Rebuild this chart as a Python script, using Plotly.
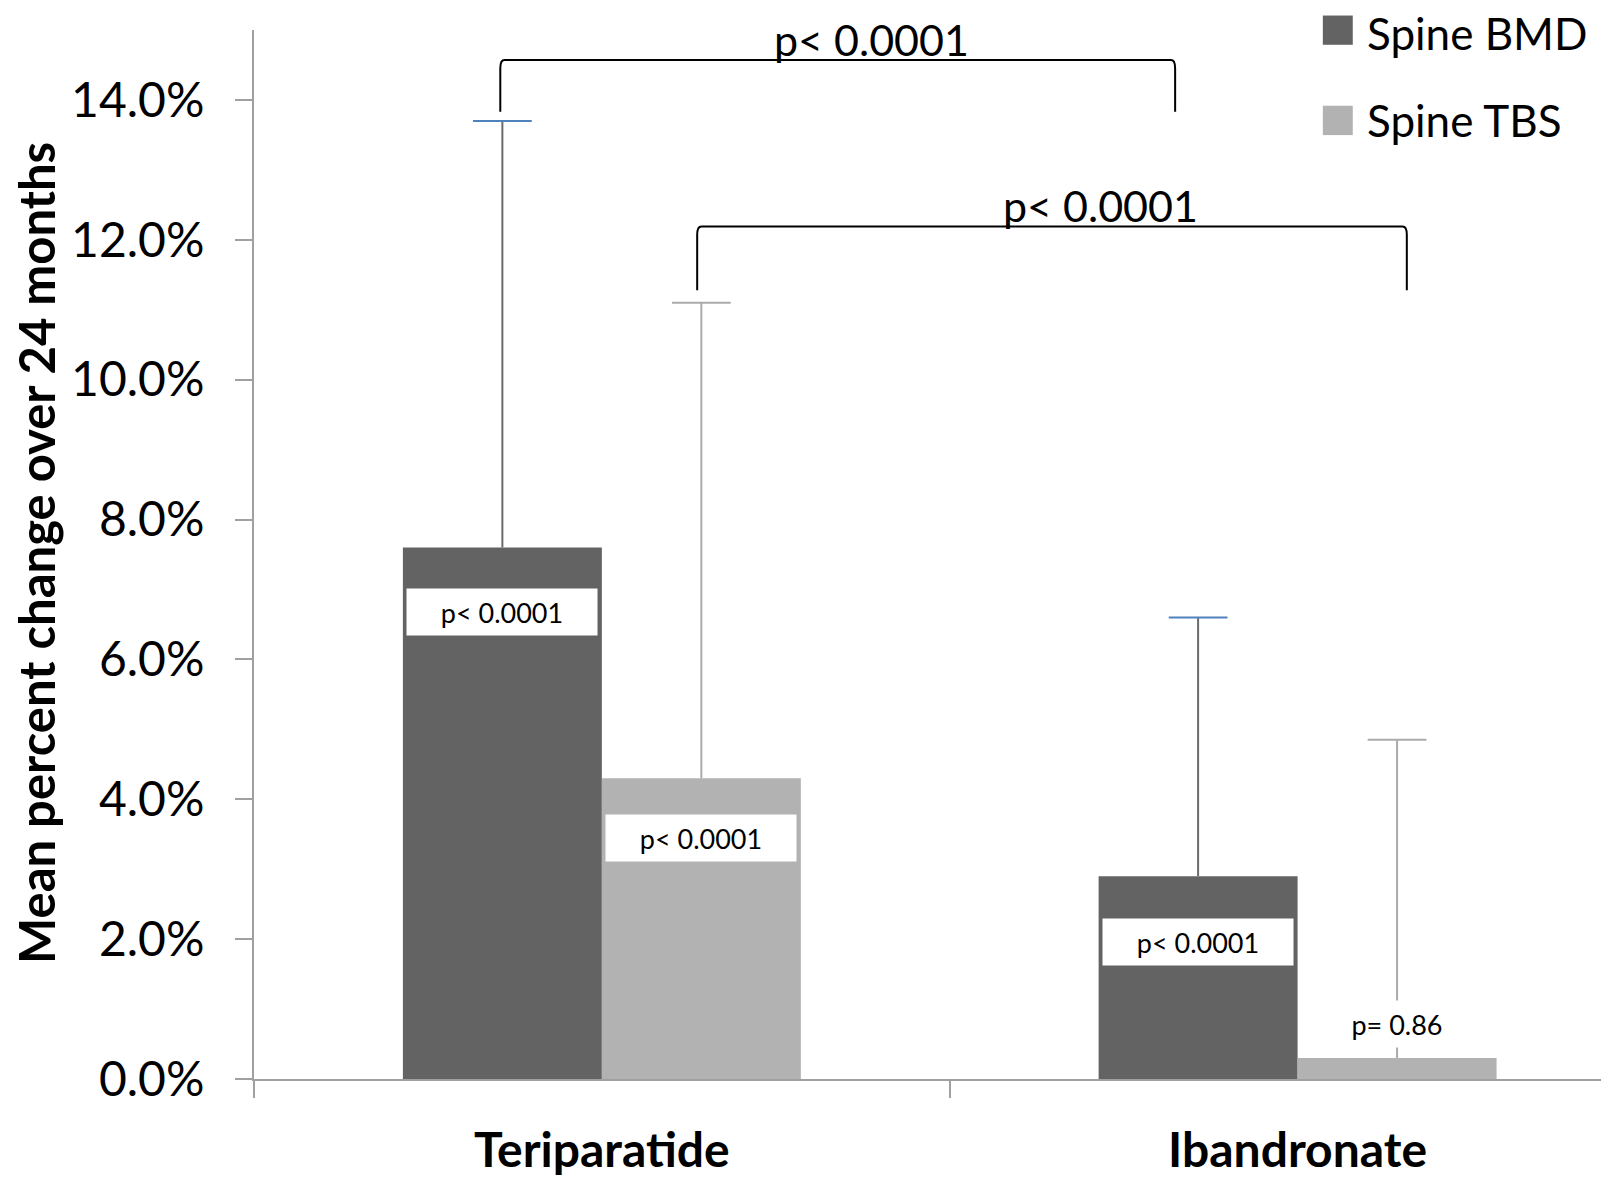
import plotly.graph_objects as go

# ---------------- data ----------------
categories = ["Teriparatide", "Ibandronate"]
series_names = ["Spine BMD", "Spine TBS"]
bmd_mean = [7.6, 2.9]
tbs_mean = [4.3, 0.3]
bmd_err_plus = [6.1, 3.7]
tbs_err_plus = [6.8, 4.55]
bmd_pvals = ["p< 0.0001", "p< 0.0001"]
tbs_pvals = ["p< 0.0001", "p= 0.86"]
between_pvals = ["p< 0.0001", "p< 0.0001"]
y_tick_vals = [0, 2, 4, 6, 8, 10, 12, 14]
y_title = "Mean percent change over 24 months"

# ---------------- layout constants ----------------
PAGE_OFF = 8  # default body margin of the html page (top/left)
W, H = 1609 - PAGE_OFF, 1178 - PAGE_OFF
ML, MR, MT, MB = 253.5 - PAGE_OFF, 0, 29.5 - PAGE_OFF, 98.5
PLOT_W = W - ML - MR
BAR_W = 0.286
OFFS = [-BAR_W / 2, BAR_W / 2]
COLORS = ["#636363", "#b2b2b2"]
STEM_COLORS = ["#6a6a6a", "#ababab"]
CAP_COLORS = ["#4f81bd", "#ababab"]
FONT = "Lato"

means = [bmd_mean, tbs_mean]
errs = [bmd_err_plus, tbs_err_plus]
pv = [bmd_pvals, tbs_pvals]

fig = go.Figure()
idx = list(range(len(categories)))

for s in range(2):
    xs = [i + OFFS[s] for i in idx]
    fig.add_trace(go.Bar(
        x=xs, y=means[s], width=BAR_W, name=series_names[s],
        marker=dict(color=COLORS[s], line=dict(width=0)),
        error_y=dict(type="data", symmetric=False, array=errs[s],
                     arrayminus=[0] * len(idx), width=0, thickness=2,
                     color=STEM_COLORS[s]),
        showlegend=False, hoverinfo="skip",
    ))
for s in range(2):
    xs = [i + OFFS[s] for i in idx]
    tops = [m + e for m, e in zip(means[s], errs[s])]
    fig.add_trace(go.Scatter(
        x=xs, y=tops, mode="markers",
        marker=dict(symbol="line-ew", size=42,
                    line=dict(color=CAP_COLORS[s], width=2)),
        showlegend=False, hoverinfo="skip",
    ))

annotations = []
shapes = []

# p-value boxes inside / above bars
label_offsets = [[-0.92, -0.94], [-0.86, 0.48]]
for s in range(2):
    for i in idx:
        annotations.append(dict(
            x=i + OFFS[s], y=means[s][i] + label_offsets[s][i],
            xref="x", yref="y", text=pv[s][i], showarrow=False,
            font=dict(family=FONT, size=27, color="black"),
            bgcolor="white", width=188, height=44, borderpad=1,
            xanchor="center", yanchor="middle",
        ))

# brackets between groups
br_x0 = [-0.146, 0.137]
br_x1 = [0.824, 1.157]
br_top = [14.57, 12.19]
br_bot = [13.83, 11.28]
br_text_x = [0.387, 0.716]
br_text_y = [14.86, 12.49]
for k in range(2):
    x0, x1, yt, yb = br_x0[k], br_x1[k], br_top[k], br_bot[k]
    dx, dy = 0.006, 0.12
    path = (f"M {x0},{yb} L {x0},{yt - dy} Q {x0},{yt} {x0 + dx},{yt} "
            f"L {x1 - dx},{yt} Q {x1},{yt} {x1},{yt - dy} L {x1},{yb}")
    shapes.append(dict(type="path", path=path, xref="x", yref="y",
                       line=dict(color="black", width=2)))
    annotations.append(dict(
        x=br_text_x[k], y=br_text_y[k], xref="x", yref="y",
        text=between_pvals[k], showarrow=False,
        font=dict(family=FONT, size=43, color="black"),
        xanchor="center", yanchor="middle",
    ))

# manual legend
leg_sq = [(0.7888, 0.8109, 0.9859, 1.0138), (0.7888, 0.8109, 0.8998, 0.9278)]
leg_text_y = [0.9976, 0.9138]
for s in range(2):
    x0, x1, y0, y1 = leg_sq[s]
    shapes.append(dict(type="rect", xref="paper", yref="paper",
                       x0=x0, x1=x1, y0=y0, y1=y1,
                       fillcolor=COLORS[s], line=dict(width=0)))
    annotations.append(dict(
        x=0.8200, y=leg_text_y[s], xref="paper", yref="paper",
        text=series_names[s], showarrow=False,
        font=dict(family=FONT, size=44, color="black"),
        xanchor="left", yanchor="middle",
    ))

# y-axis title (placed as rotated annotation)
annotations.append(dict(
    x=(28 - ML) / PLOT_W, y=0.501, xref="paper", yref="paper",
    text=f"<b>{y_title}</b>", textangle=-90, showarrow=False,
    font=dict(family=FONT, size=49, color="black"),
    xanchor="center", yanchor="middle",
))

fig.update_layout(
    width=W, height=H,
    margin=dict(l=ML, r=MR, t=MT, b=MB, autoexpand=False),
    plot_bgcolor="white", paper_bgcolor="white",
    barmode="overlay",
    annotations=annotations, shapes=shapes,
    font=dict(family=FONT, color="black"),
    xaxis=dict(
        range=[-0.5, 1.4476], tickmode="array", tickvals=idx,
        ticktext=[f"<b>{c}</b>" for c in categories],
        tickfont=dict(family=FONT, size=48, color="black"),
        ticks="", showgrid=False, zeroline=False,
        showline=True, linecolor="#a0a0a0", linewidth=2,
        ticklabelstandoff=28,
        minor=dict(tickmode="array", tickvals=[-0.5, 0.5, 1.5],
                   ticks="outside", ticklen=17, tickcolor="#a0a0a0",
                   tickwidth=2, showgrid=False),
    ),
    yaxis=dict(
        range=[0, 15], tickmode="array", tickvals=y_tick_vals,
        ticktext=[f"{v:.1f}%" for v in y_tick_vals],
        tickfont=dict(family=FONT, size=48, color="black"),
        ticks="outside", ticklen=17, tickcolor="#a0a0a0", tickwidth=2,
        showgrid=False, zeroline=False,
        showline=True, linecolor="#a0a0a0", linewidth=2,
        ticklabelstandoff=21,
    ),
)

fig.write_html("out.html")
